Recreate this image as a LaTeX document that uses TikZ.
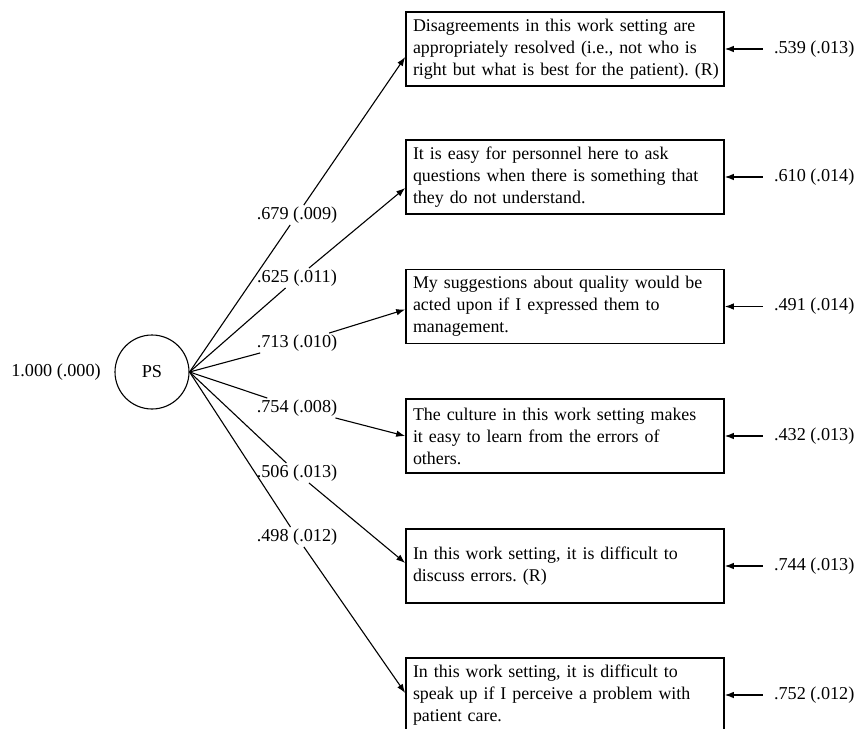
\documentclass[tikz,border=0pt]{standalone}
\usepackage{fontspec}
\setmainfont{Liberation Serif}
\usetikzlibrary{arrows.meta,calc}
\frenchspacing
\begin{document}
\begin{tikzpicture}[x=1pt,y=-1pt,
  font=\fontsize{18.2}{22}\selectfont\frenchspacing,
  item/.style={draw, line width=1.6pt, minimum width=318pt, minimum height=74pt,
    text width=304pt, inner xsep=7pt, align=left,
    font=\fontsize{17.9}{22}\selectfont\frenchspacing},
  lv/.style={draw, circle, line width=1.1pt, minimum size=74pt, inner sep=0pt},
  load/.style={inner sep=1.5pt},
  resid/.style={anchor=west, inner xsep=11pt, inner ysep=1pt},
  conn/.style={line width=1.1pt},
  arr/.style={line width=1.1pt, -{Latex[length=9pt,width=6.5pt]}}]
\useasboundingbox (0,0) rectangle (856,728);

% latent variable
\node[lv] (PS) at (152,372) {PS};
\coordinate (ps) at (PS.east);
\node (var) at (56,372) {1.000 (.000)};

% indicator boxes
\node[item] (b1) at (565,49) {\mbox{Disagreements in this work setting are}\\\mbox{appropriately resolved (i.e., not who is}\\\mbox{right but what is best for the patient). (R)}};
\node[item] (b2) at (565,177) {\mbox{It is easy for personnel here to ask}\\\mbox{questions when there is something that}\\\mbox{they do not understand.}};
\node[item] (b3) at (565,306.5) {\mbox{My suggestions about quality would be}\\\mbox{acted upon if I expressed them to}\\\mbox{management.}};
\node[item] (b4) at (565,436) {\mbox{The culture in this work setting makes}\\\mbox{it easy to learn from the errors of}\\\mbox{others.}};
\node[item] (b5) at (565,566) {\mbox{In this work setting, it is difficult to}\\\mbox{discuss errors. (R)}};
\node[item] (b6) at (565,695) {\mbox{In this work setting, it is difficult to}\\\mbox{speak up if I perceive a problem with}\\\mbox{patient care.}};

% arrow targets on the boxes
\coordinate (t1) at ($(b1.west)+(0,8)$);
\coordinate (t2) at ($(b2.west)+(0,11)$);
\coordinate (t3) at ($(b3.west)+(0,3)$);
\coordinate (t4) at ($(b4.west)+(0,0)$);
\coordinate (t5) at ($(b5.west)+(0,-3)$);
\coordinate (t6) at ($(b6.west)+(0,-2)$);

% loading labels
\node[load] (l1) at (297,215) {.679 (.009)};
\node[load] (l2) at (297,278) {.625 (.011)};
\node[load] (l3) at (297,343) {.713 (.010)};
\node[load] (l4) at (297,408) {.754 (.008)};
\node[load] (l5) at (297,473) {.506 (.013)};
\node[load] (l6) at (297,537) {.498 (.012)};

\foreach \i in {1,...,6}{
  \draw[conn] (ps) -- (l\i);
  \draw[arr] (l\i) -- (t\i);
}

% residuals
\node[resid] (r1) at ($(b1.east)+(38,0)$) {.539 (.013)};
\node[resid] (r2) at ($(b2.east)+(38,0)$) {.610 (.014)};
\node[resid] (r3) at ($(b3.east)+(38,0)$) {.491 (.014)};
\node[resid] (r4) at ($(b4.east)+(38,0)$) {.432 (.013)};
\node[resid] (r5) at ($(b5.east)+(38,0)$) {.744 (.013)};
\node[resid] (r6) at ($(b6.east)+(38,0)$) {.752 (.012)};
\foreach \i in {1,...,6}{
  \draw[arr] (r\i) -- (b\i);
}
\end{tikzpicture}
\end{document}
